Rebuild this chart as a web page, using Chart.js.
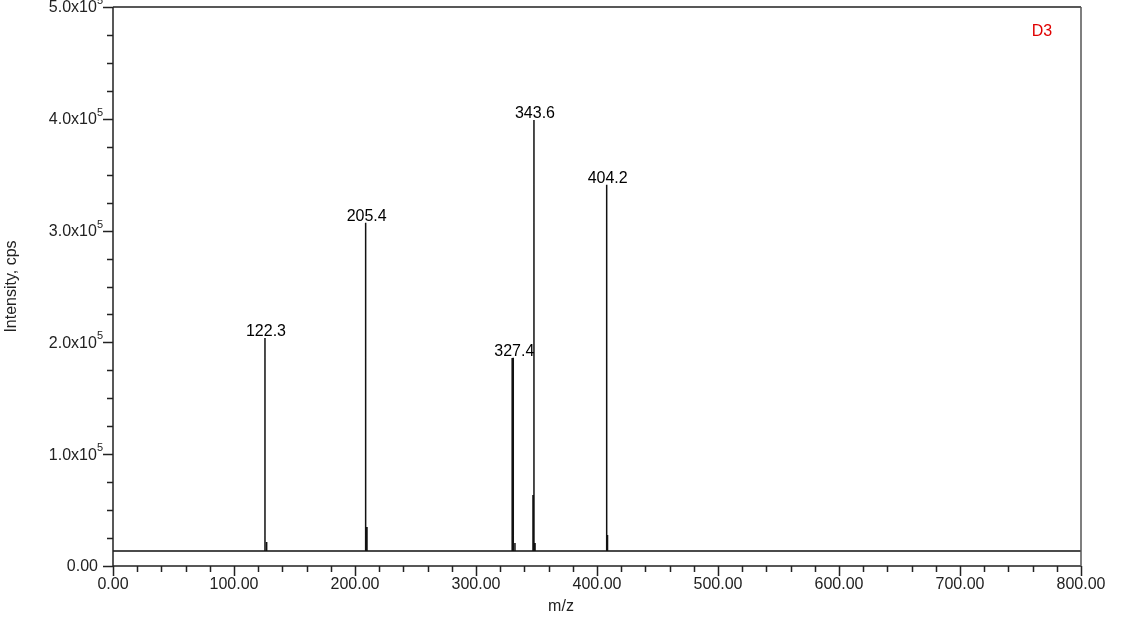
<!DOCTYPE html>
<html>
<head>
<meta charset="utf-8">
<script src="https://cdn.jsdelivr.net/npm/chart.js@4"></script>
<style>
  body { margin: 0; background: #fff; }
  #wrap { width: 1128px; height: 622px; position: relative; }
</style>
</head>
<body>
<div id="wrap"><canvas id="chart"></canvas></div>
<script>
// Spectrum data (m/z, intensity in cps)
const baselineIntensity = 13400;
const stickMz = [125.6, 127.0, 208.8, 209.9, 329.9, 330.8, 332.2, 347.1, 347.9, 348.8, 408.0, 408.7];
const stickIntensity = [204000, 21500, 307000, 34900, 186000, 186300, 20600, 63500, 399000, 20600, 341000, 27700];

// Annotated peaks
const peakLabels = ['122.3', '205.4', '327.4', '343.6', '404.2'];
const peakMz = [125.6, 208.8, 330.8, 347.9, 408.0];
const peakIntensity = [204000, 307000, 186300, 399000, 341000];

// Axis ticks
const xMajorTicks = [0, 100, 200, 300, 400, 500, 600, 700, 800];
const xMajorLabels = ['0.00', '100.00', '200.00', '300.00', '400.00', '500.00', '600.00', '700.00', '800.00'];
const xMinorStep = 20;
const yMajorTicks = [0, 100000, 200000, 300000, 400000, 500000];
const yMajorLabels = ['0.00', '1.0x10', '2.0x10', '3.0x10', '4.0x10', '5.0x10'];
const yMinorStep = 25000;

const fontFamily = "'Liberation Sans', Arial, sans-serif";

// build the stick trace: baseline, up to each peak and back down
function buildTrace() {
    const pts = [{ x: 0, y: baselineIntensity }];
    stickMz.forEach((mz, i) => {
        pts.push({ x: mz, y: baselineIntensity });
        pts.push({ x: mz, y: stickIntensity[i] });
        pts.push({ x: mz, y: baselineIntensity });
    });
    pts.push({ x: 800, y: baselineIntensity });
    return pts;
}

const axesPlugin = {
    id: 'axesPlugin',
    afterDraw(chart) {
        const ctx = chart.ctx;
        const area = chart.chartArea;
        const xs = chart.scales.x;
        const ys = chart.scales.y;
        ctx.save();

        // frame
        ctx.strokeStyle = '#222';
        ctx.lineWidth = 1.5;
        ctx.beginPath();
        ctx.moveTo(area.left, area.top);
        ctx.lineTo(area.left, area.bottom);
        ctx.lineTo(area.right, area.bottom);
        ctx.moveTo(area.left, area.top);
        ctx.lineTo(area.right, area.top);
        ctx.stroke();
        ctx.strokeStyle = '#555';
        ctx.beginPath();
        ctx.moveTo(area.right, area.top);
        ctx.lineTo(area.right, area.bottom);
        ctx.stroke();

        // x ticks
        ctx.strokeStyle = '#222';
        ctx.lineWidth = 1.5;
        ctx.beginPath();
        for (let v = 0; v <= 800; v += xMinorStep) {
            const px = Math.round(xs.getPixelForValue(v)) + 0.5;
            const major = v % 100 === 0;
            ctx.moveTo(px, area.bottom);
            ctx.lineTo(px, area.bottom + (major ? 10 : 6));
        }
        ctx.stroke();

        // y ticks
        ctx.beginPath();
        for (let v = 0; v <= 500000; v += yMinorStep) {
            const py = Math.round(ys.getPixelForValue(v)) + 0.5;
            const major = v % 100000 === 0;
            ctx.moveTo(area.left, py);
            ctx.lineTo(area.left - (major ? 10 : 6), py);
        }
        ctx.stroke();

        ctx.fillStyle = '#222';
        ctx.font = '16px ' + fontFamily;

        // x labels
        ctx.textAlign = 'center';
        ctx.textBaseline = 'middle';
        xMajorTicks.forEach((v, i) => {
            ctx.fillText(xMajorLabels[i], xs.getPixelForValue(v), area.bottom + 19);
        });

        // y labels with superscript exponent
        yMajorTicks.forEach((v, i) => {
            const py = ys.getPixelForValue(v);
            ctx.textAlign = 'right';
            ctx.textBaseline = 'middle';
            if (v === 0) {
                ctx.font = '16px ' + fontFamily;
                ctx.fillText(yMajorLabels[i], area.left - 15, py + 1);
                return;
            }
            ctx.font = '11px ' + fontFamily;
            const supW = ctx.measureText('5').width;
            ctx.fillText('5', area.left - 10, py - 6);
            ctx.font = '16px ' + fontFamily;
            ctx.fillText(yMajorLabels[i], area.left - 10 - supW, py + 1);
        });

        // axis titles
        ctx.font = '16px ' + fontFamily;
        ctx.textAlign = 'center';
        ctx.textBaseline = 'middle';
        ctx.fillText('m/z', 561, area.bottom + 41);
        ctx.save();
        ctx.translate(12, (area.top + area.bottom) / 2);
        ctx.rotate(-Math.PI / 2);
        ctx.fillText('Intensity, cps', 0, 0);
        ctx.restore();

        // peak annotations
        ctx.fillStyle = '#000';
        ctx.textBaseline = 'alphabetic';
        peakLabels.forEach((lab, i) => {
            const px = xs.getPixelForValue(peakMz[i]);
            const py = ys.getPixelForValue(peakIntensity[i]);
            ctx.fillText(lab, px + 1, py - 2);
        });

        // sample tag
        ctx.fillStyle = '#e00000';
        ctx.fillText('D3', area.right - 39, 36);

        ctx.restore();
    }
};

new Chart(document.getElementById('chart'), {
    type: 'line',
    data: {
        datasets: [{
            data: buildTrace(),
            borderColor: '#111',
            borderWidth: 1.5,
            pointRadius: 0,
            tension: 0,
            fill: false
        }]
    },
    options: {
        responsive: true,
        maintainAspectRatio: false,
        animation: false,
        devicePixelRatio: 1,
        layout: {
            padding: { left: 113, right: 47, top: 7, bottom: 56 }
        },
        plugins: {
            legend: { display: false },
            tooltip: { enabled: false }
        },
        scales: {
            x: { type: 'linear', min: 0, max: 800, display: false },
            y: { type: 'linear', min: 0, max: 500000, display: false }
        }
    },
    plugins: [axesPlugin]
});
</script>
</body>
</html>
